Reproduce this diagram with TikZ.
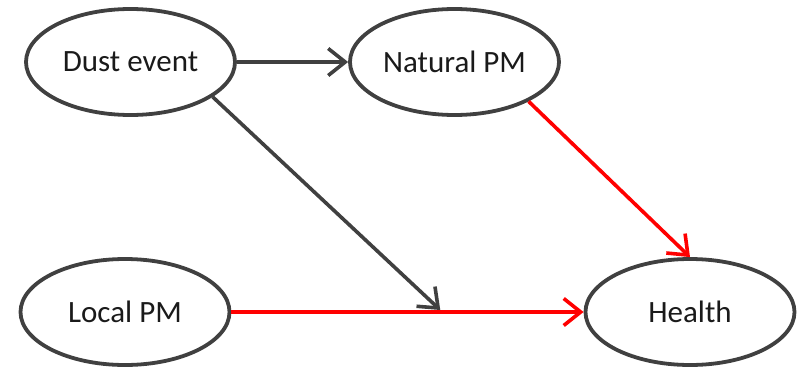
\documentclass[tikz,border=0pt]{standalone}
\usepackage{fontspec}
\setmainfont{Carlito}
\usetikzlibrary{shapes.geometric,arrows.meta,calc}
\definecolor{edgegray}{HTML}{404040}
\definecolor{txtcol}{HTML}{1A1A1A}
\begin{document}
\begin{tikzpicture}[x=1pt,y=-1pt,
  var/.style={ellipse,draw=edgegray,line width=3.8pt,minimum width=209pt,minimum height=106pt,inner sep=0pt,
    font=\fontsize{31}{37}\selectfont,text=txtcol},
  grayarrow/.style={draw=edgegray,line width=3.6pt,-{Straight Barb[length=17pt,width=27pt,line width=3.6pt]}},
  redarrow/.style={draw=red,line width=3.6pt,-{Straight Barb[length=17pt,width=27pt,line width=3.6pt]}}]
\useasboundingbox (0,0) rectangle (800,369);
\node[var] (dust) at (130.5,62) {Dust event};
\node[var] (natural) at (454.5,62) {Natural PM};
\node[var] (local) at (125,312) {Local PM};
\node[var] (health) at (690,312) {Health};
\coordinate (m) at ($(local.east)!0.593!(health.west)+(0,-2)$);
\draw[redarrow] (local.east) -- (health.west);
\draw[redarrow] (natural.-28) -- (health.north);
\draw[grayarrow] (dust.east) -- (natural.west);
\draw[grayarrow] (dust.-23) -- (m);
\end{tikzpicture}
\end{document}
